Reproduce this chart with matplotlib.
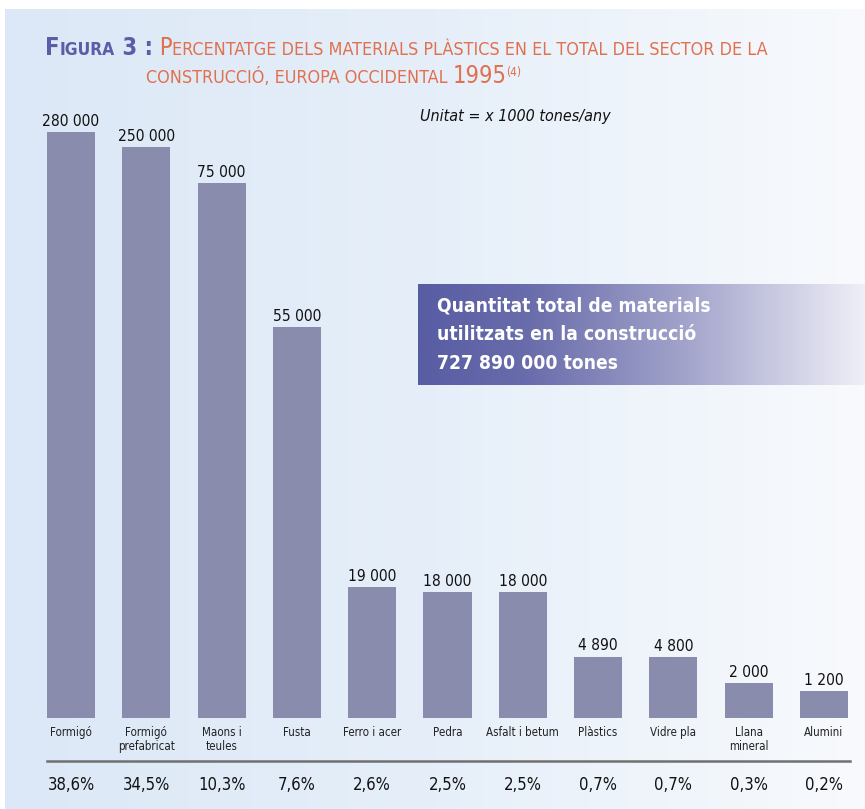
import numpy as np
import matplotlib
matplotlib.use("Agg")
import matplotlib.pyplot as plt
from matplotlib.colors import LinearSegmentedColormap

plt.rcParams['font.family'] = ['DejaVu Sans']
plt.rcParams['font.stretch'] = 'condensed'

# data
materials = ["Formigó", "Formigó\nprefabricat", "Maons i\nteules", "Fusta", "Ferro i acer",
             "Pedra", "Asfalt i betum", "Plàstics", "Vidre pla", "Llana\nmineral", "Alumini"]
quantities = [280000, 250000, 75000, 55000, 19000, 18000, 18000, 4890, 4800, 2000, 1200]
value_labels = ["280 000", "250 000", "75 000", "55 000", "19 000", "18 000", "18 000",
                "4 890", "4 800", "2 000", "1 200"]
percentages = ["38,6%", "34,5%", "10,3%", "7,6%", "2,6%", "2,5%", "2,5%",
               "0,7%", "0,7%", "0,3%", "0,2%"]
total_lines = ["Quantitat total de materials", "utilitzats en la construcció", "727 890 000 tones"]

# the original uses a broken (non-proportional) vertical axis
break_values = [0, 1200, 4800, 19000, 75000, 250000, 280000]
break_heights = [0, 27, 61, 131, 535, 571, 586]

W, H = 865, 809
BLUE = "#5a5ea6"
ORANGE = "#e0704e"
BAR = "#8a8cad"

fig = plt.figure(figsize=(W / 100, H / 100), dpi=100)
fig.patch.set_facecolor("white")


def fx(x):
    return x / W


def fy(y):
    return 1 - y / H


# light blue panel background
bg = fig.add_axes([fx(5), 0, fx(860), fy(9)])
bg_cmap = LinearSegmentedColormap.from_list("bg", ["#dce8f7", "#e6eff9", "#f8fafd"])
bg.imshow(np.linspace(0, 1, 256)[None, :], aspect="auto", cmap=bg_cmap, extent=[0, 1, 0, 1])
bg.axis("off")

# bar axes
ax = fig.add_axes([fx(5), fy(718), fx(860), (718 - 132) / H])
ax.patch.set_alpha(0)
ax.set_yscale("function", functions=(lambda v: np.interp(v, break_values, break_heights),
                                     lambda h: np.interp(h, break_heights, break_values)))
x = np.arange(len(materials))
ax.bar(x, quantities, width=0.64, color=BAR, zorder=2)
ax.set_xlim(-66 / 75.3, 10 + (860 - 824 + 5) / 75.3)
ax.set_ylim(0, 280000)
ax.axis("off")

for xi, q, lab in zip(x, quantities, value_labels):
    ax.annotate(lab, (xi, q), xytext=(0, 4.5), textcoords="offset points",
                ha="center", va="baseline", fontsize=11.2, color="#111111")

for xi, m in zip(x, materials):
    ax.annotate(m, (xi, 0), xytext=(0, -6), textcoords="offset points",
                ha="center", va="top", fontsize=8.3, color="#222222", linespacing=1.1)

for xi, p in zip(x, percentages):
    ax.annotate(p, (xi, 0), xytext=(0, -52), textcoords="offset points",
                ha="center", va="baseline", fontsize=12, color="#111111",
                annotation_clip=False)

# rule above percentages
fig.add_artist(plt.Line2D([fx(47), fx(850)], [fy(761), fy(761)], color="#707070", lw=1.8))

# unit note
fig.text(fx(420), fy(121), "Unitat = x 1000 tones/any", fontsize=11.5, style="italic",
         color="#111111", va="baseline")

# total box with gradient
box = fig.add_axes([fx(418), fy(385), fx(447), (385 - 284) / H])
box_cmap = LinearSegmentedColormap.from_list("box", [(0, "#585ca3"), (0.25, "#6a6dab"),
                                                      (0.6, "#a3a4cb"), (1, "#efeff7")])
box.imshow(np.linspace(0, 1, 256)[None, :], aspect="auto", cmap=box_cmap, extent=[0, 1, 0, 1])
box.axis("off")
for i, line in enumerate(total_lines):
    fig.text(fx(437), fy(311 + 29 * i), line, fontsize=13.8, fontweight="bold",
             color="white", va="baseline")

# title with small caps, chained piece by piece
renderer = fig.canvas.get_renderer()


def chain(pieces, x0, y0):
    xpos = x0
    for txt, size, color, weight, dy, gap in pieces:
        t = fig.text(xpos + gap / W, y0 + dy / H, txt, fontsize=size, color=color,
                     fontweight=weight, va="baseline", ha="left")
        bb = t.get_window_extent(renderer)
        xpos = bb.x1 / W


chain([("F", 17, BLUE, "bold", 0, 0), ("IGURA", 12.5, BLUE, "bold", 0, 0),
       (" 3 :", 17, BLUE, "bold", 0, 0), (" P", 17, ORANGE, "normal", 0, 0),
       ("ERCENTATGE DELS MATERIALS PLÀSTICS EN EL TOTAL DEL SECTOR DE LA", 12.9, ORANGE, "normal", 0, 0)],
      fx(45), fy(55))
chain([("CONSTRUCCIÓ, EUROPA OCCIDENTAL ", 12.9, ORANGE, "normal", 0, 0),
       ("1995", 17, ORANGE, "normal", 0, 0), ("(4)", 8.5, ORANGE, "normal", 7, -1)],
      fx(146), fy(83))

fig.savefig("out.png", dpi=100)
